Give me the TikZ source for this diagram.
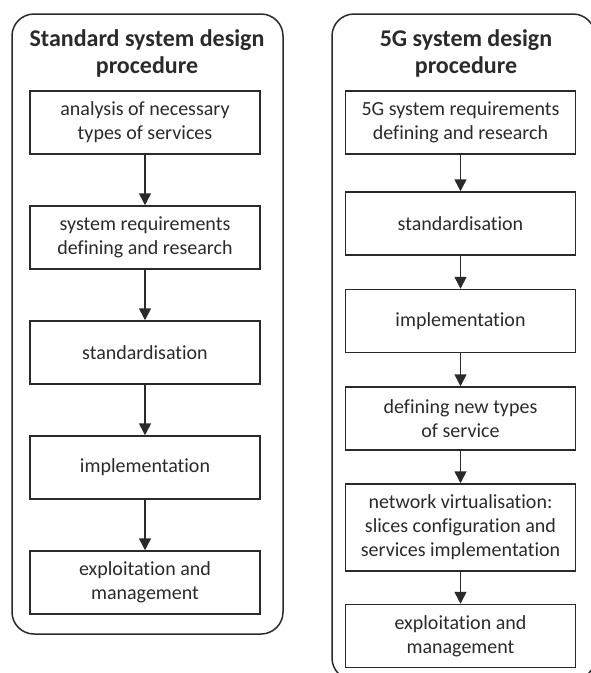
\documentclass[tikz,border=0pt]{standalone}
\usepackage{fontspec}
\setmainfont{Carlito}[Ligatures=NoCommon]
\usepackage{tikz}
\usetikzlibrary{arrows.meta}
\definecolor{ink}{HTML}{2A2A2A}

\begin{document}
\begin{tikzpicture}[x=1pt,y=1pt]
\useasboundingbox (0,0) rectangle (590,-673);

\begin{scope}[every node/.style={draw=ink,line width=1.5pt,rounded corners=22pt}]
  \node[minimum width=271pt,minimum height=620pt] (Lframe) at (147.5,-324) {};
  \node[minimum width=263pt,minimum height=666pt] (Rframe) at (463.5,-347) {};
\end{scope}

\begin{scope}[every node/.style={text=ink,align=center,
              font=\bfseries\fontsize{24}{27}\selectfont}]
  \node (Ltitle) at (147,-53) {Standard system design\\procedure};
  \node (Rtitle) at (466,-53) {5G system design\\procedure};
\end{scope}

\begin{scope}[every node/.style={draw=ink,line width=1.5pt,text=ink,align=center,
              font=\fontsize{20}{24}\selectfont,
              minimum width=230pt,minimum height=63pt,inner sep=2pt}]
  \node (L1) at (145,-122.5) {analysis of necessary\\types of services};
  \node (L2) at (145,-237.5) {system requirements\\defining and research};
  \node (L3) at (145,-352.5) {standardisation};
  \node (L4) at (145,-467.5) {implementation};
  \node (L5) at (145,-582.5) {exploitation and\\management};
  \node (R1) at (460.5,-122.5) {5G system requirements\\defining and research};
  \node (R2) at (460.5,-223.5) {standardisation};
  \node (R3) at (460.5,-321) {implementation};
  \node (R4) at (460.5,-418.5) {defining new types\\of service};
  \node[minimum height=87pt] (R5) at (460.5,-527.5)
    {network virtualisation:\\slices configuration and\\services implementation};
  \node (R6) at (460.5,-636) {exploitation and\\management};
\end{scope}

\begin{scope}[>={Triangle[width=12pt,length=12pt,fill=ink]},
              every edge/.style={draw=ink,line width=1.5pt}]
  \path [->] (L1) edge (L2);
  \path [->] (L2) edge (L3);
  \path [->] (L3) edge (L4);
  \path [->] (L4) edge (L5);
  \path [->] (R1) edge (R2);
  \path [->] (R2) edge (R3);
  \path [->] (R3) edge (R4);
  \path [->] (R4) edge (R5);
  \path [->] (R5) edge (R6);
\end{scope}
\end{tikzpicture}
\end{document}
